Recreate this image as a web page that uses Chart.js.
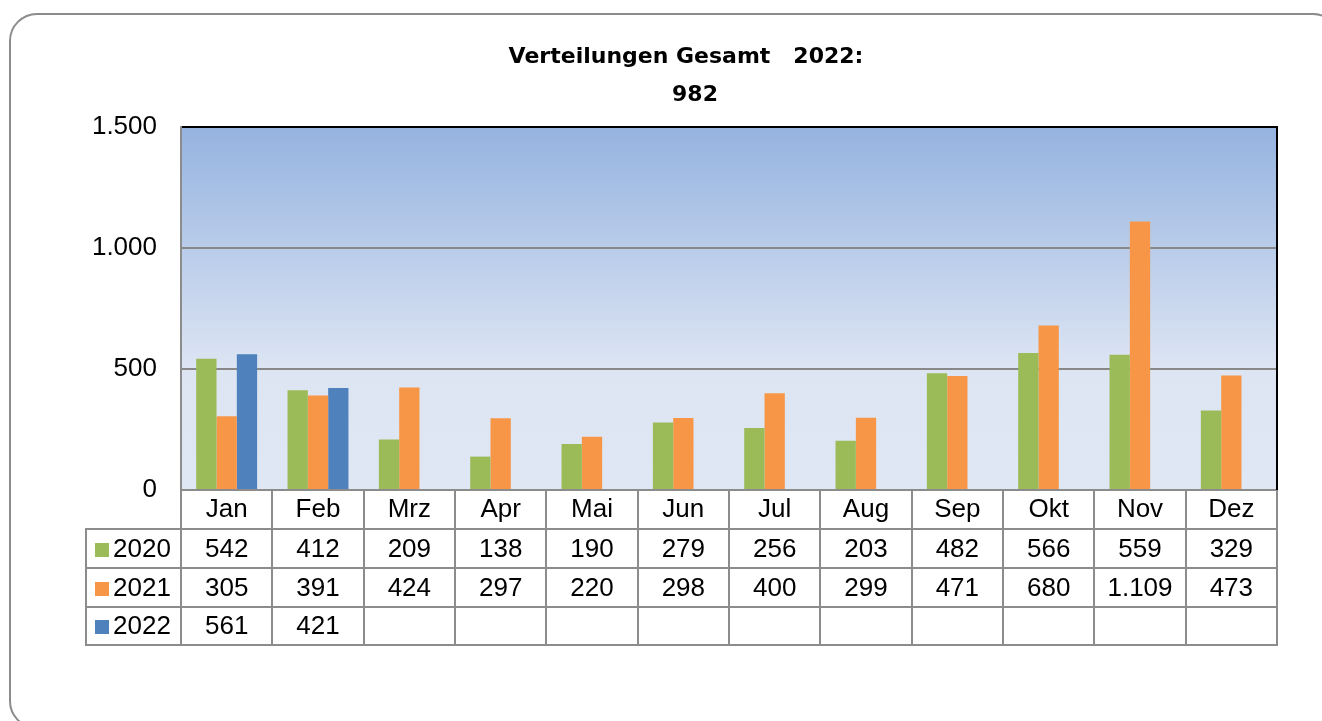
<!DOCTYPE html>
<html><head><meta charset="utf-8">
<script src="https://cdn.jsdelivr.net/npm/chart.js@4/dist/chart.umd.min.js"></script>
<style>html,body{margin:0;padding:0;background:#fff;overflow:hidden}#wrap{position:relative;width:1322px;height:721px}</style>
</head><body><div id="wrap"><canvas id="c" width="1322" height="721"></canvas></div>
<script>
// ---- data ----
const months = ['Jan','Feb','Mrz','Apr','Mai','Jun','Jul','Aug','Sep','Okt','Nov','Dez'];
const seriesNames = ['2020','2021','2022'];
const values2020 = [542,412,209,138,190,279,256,203,482,566,559,329];
const values2021 = [305,391,424,297,220,298,400,299,471,680,1109,473];
const values2022 = [561,421,null,null,null,null,null,null,null,null,null,null];
const yMin = 0, yMax = 1500, yStep = 500;
const titleLines = ['Verteilungen Gesamt   2022:', '982'];

// ---- style / layout ----
const colors = ['#9bbb59','#f79646','#4f81bd'];
const FONT = '"Liberation Sans", Arial, sans-serif';
const TITLE_FONT = 'bold 22px "DejaVu Sans", sans-serif';
const TITLE_POS = [[686, 57], [695, 95]];
const LINE = '#8c8c8c';
const ROW_LINES = [529, 568, 607, 645];
const LEGEND_LEFT = 86;

const fmt = v => String(v).replace(/\B(?=(\d{3})+(?!\d))/g, '.');

function roundRectPath(ctx, x, y, w, h, r){
  ctx.beginPath();
  ctx.moveTo(x+r, y);
  ctx.arcTo(x+w, y, x+w, y+h, r);
  ctx.arcTo(x+w, y+h, x, y+h, r);
  ctx.arcTo(x, y+h, x, y, r);
  ctx.arcTo(x, y, x+w, y, r);
  ctx.closePath();
}

const framePlugin = {
  id: 'frame',
  beforeDraw(chart){
    const {ctx, chartArea: a} = chart;
    ctx.save();
    ctx.fillStyle = '#fff';
    ctx.fillRect(0, 0, chart.width, chart.height);
    ctx.strokeStyle = LINE; ctx.lineWidth = 2;
    roundRectPath(ctx, 10, 14, 1330, 714, 27);
    ctx.stroke();
    const g = ctx.createLinearGradient(0, a.top, 0, a.bottom);
    g.addColorStop(0, '#95b3e0');
    g.addColorStop(0.667, '#dde5f3');
    g.addColorStop(1, '#dfe6f4');
    ctx.fillStyle = g;
    ctx.fillRect(a.left, a.top, a.right - a.left, a.bottom - a.top);
    // title
    ctx.fillStyle = '#000';
    ctx.font = TITLE_FONT;
    ctx.textAlign = 'center';
    ctx.textBaseline = 'middle';
    titleLines.forEach((t, i) => ctx.fillText(t, TITLE_POS[i][0], TITLE_POS[i][1]));
    ctx.restore();
  },
  afterDraw(chart){
    const {ctx, chartArea: a} = chart;
    const xs = chart.scales.x;
    const n = chart.data.labels.length;
    ctx.save();
    // right plot border
    ctx.strokeStyle = '#000'; ctx.lineWidth = 2;
    ctx.beginPath(); ctx.moveTo(Math.round(a.right), a.top - 1); ctx.lineTo(Math.round(a.right), a.bottom); ctx.stroke();
    // table grid
    const b = [a.left];
    for (let i = 1; i < n; i++) b.push((xs.getPixelForValue(i-1) + xs.getPixelForValue(i)) / 2);
    b.push(a.right);
    const bottom = ROW_LINES[ROW_LINES.length-1];
    ctx.strokeStyle = LINE; ctx.lineWidth = 2;
    ctx.beginPath();
    b.forEach(x => { const px = Math.round(x); ctx.moveTo(px, a.bottom); ctx.lineTo(px, bottom + 1); });
    ctx.moveTo(LEGEND_LEFT, ROW_LINES[0]); ctx.lineTo(LEGEND_LEFT, bottom + 1);
    ROW_LINES.forEach(y => { ctx.moveTo(LEGEND_LEFT - 1, y); ctx.lineTo(Math.round(a.right) + 1, y); });
    ctx.stroke();
    // table text
    ctx.font = '26px ' + FONT;
    ctx.textBaseline = 'middle';
    chart.data.datasets.forEach((ds, r) => {
      const yc = (ROW_LINES[r] + ROW_LINES[r+1]) / 2 + 1;
      ctx.fillStyle = ds.backgroundColor;
      ctx.fillRect(95, Math.round(yc - 7), 14, 14);
      ctx.fillStyle = '#000';
      ctx.textAlign = 'left';
      ctx.fillText(ds.label, 113, yc);
      ctx.textAlign = 'center';
      ds.data.forEach((v, i) => {
        if (v === null || v === undefined) return;
        ctx.fillText(fmt(v), xs.getPixelForValue(i), yc);
      });
    });
    ctx.restore();
  }
};

new Chart(document.getElementById('c'), {
  type: 'bar',
  data: {
    labels: months,
    datasets: [
      {label: seriesNames[0], data: values2020, backgroundColor: colors[0]},
      {label: seriesNames[1], data: values2021, backgroundColor: colors[1]},
      {label: seriesNames[2], data: values2022, backgroundColor: colors[2]}
    ]
  },
  options: {
    responsive: false,
    animation: false,
    devicePixelRatio: 1,
    layout: {padding: {left: 85, right: 45, top: 127, bottom: 0}},
    datasets: {bar: {categoryPercentage: 0.667, barPercentage: 1.0, borderWidth: 0}},
    plugins: {
      legend: {display: false},
      tooltip: {enabled: false},
      title: {display: false}
    },
    scales: {
      x: {
        grid: {display: false, drawTicks: false},
        border: {display: true, color: LINE, width: 2},
        ticks: {color: '#000', font: {family: FONT, size: 26}, padding: 4, maxRotation: 0, autoSkip: false},
        afterFit(scale){ scale.height = 231; }
      },
      y: {
        min: yMin, max: yMax,
        grid: {
          drawTicks: false,
          color: ctx => ctx.tick.value === yMax ? '#000' : (ctx.tick.value === yMin ? 'rgba(0,0,0,0)' : '#888888'),
          lineWidth: 2
        },
        border: {display: true, color: LINE, width: 2},
        ticks: {stepSize: yStep, color: '#000', font: {family: FONT, size: 26}, padding: 24, callback: v => fmt(v)},
        afterFit(scale){ scale.width = 96; }
      }
    }
  },
  plugins: [framePlugin]
});
</script>
</body></html>
